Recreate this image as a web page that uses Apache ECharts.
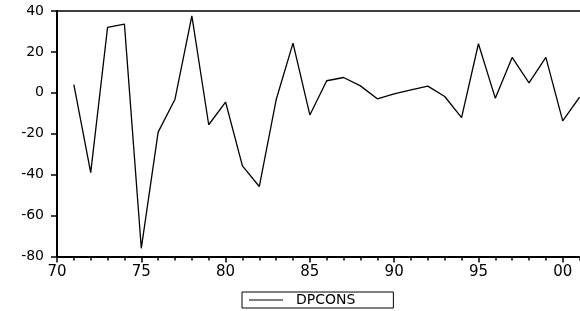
<!DOCTYPE html>
<html>
<head>
<meta charset="utf-8">
<script src="https://cdn.jsdelivr.net/npm/echarts@6/dist/echarts.min.js"></script>
<style>
  html, body { margin: 0; padding: 0; background: #fff; }
  #chart { width: 580px; height: 311px; }
</style>
</head>
<body>
<div id="chart"></div>
<script>
// 年份（两位数，101 即 2001）
var years = [71, 72, 73, 74, 75, 76, 77, 78, 79, 80,
             81, 82, 83, 84, 85, 86, 87, 88, 89, 90,
             91, 92, 93, 94, 95, 96, 97, 98, 99, 100, 101];
// DPCONS 数值
var dpcons = [4, -39, 32, 33.6, -76, -19.2, -3.1, 37.6, -15.6, -4.5,
              -35.7, -45.8, -3.4, 24.3, -10.8, 5.9, 7.5, 3.4, -2.9, -0.5,
              1.5, 3.3, -1.8, -12.1, 24, -2.6, 17.3, 4.9, 17.3, -13.7, -2.1];
var seriesName = 'DPCONS';

var chart = echarts.init(document.getElementById('chart'));

var points = years.map(function(y, i){ return [y, dpcons[i]]; });

chart.setOption({
  animation: false,
  grid: {
    left: 57, top: 11, width: 590, height: 245.5,
    outerBoundsMode: 'none'
  },
  legend: {
    data: [seriesName],
    left: 242, top: 292,
    padding: [1, 38, 1, 7],
    icon: 'rect',
    itemWidth: 34, itemHeight: 1,
    itemStyle: { color: '#000' },
    borderColor: '#000', borderWidth: 1, borderRadius: 0,
    textStyle: { fontFamily: 'DejaVu Sans', fontSize: 14, color: '#000', lineHeight: 13, padding: [0, 0, 0, 8] }
  },
  xAxis: [{
    type: 'value',
    min: 70, max: 105, interval: 5,
    splitLine: { show: true, lineStyle: { opacity: 0 } },
    axisLine: { onZero: false, lineStyle: { color: '#000', width: 2 } },
    axisTick: { show: true, length: 6, lineStyle: { color: '#000', width: 1.5 } },
    minorTick: { show: true, splitNumber: 5, length: 4, lineStyle: { color: '#000', width: 1.5 } },
    axisLabel: {
      margin: 8, fontSize: 15, color: '#000', fontFamily: 'DejaVu Sans',
      formatter: function(v){ var s = String(v % 100); return s.length < 2 ? '0' + s : s; }
    }
  }, {
    // 顶部边框
    type: 'value', position: 'top',
    min: 70, max: 105,
    splitLine: { show: false },
    axisLine: { onZero: false, lineStyle: { color: '#000', width: 1.5 } },
    axisTick: { show: false },
    axisLabel: { show: false }
  }],
  yAxis: {
    type: 'value',
    min: -80, max: 40, interval: 20,
    splitLine: { show: true, lineStyle: { opacity: 0 } },
    axisLine: { show: true, onZero: false, lineStyle: { color: '#000', width: 2 } },
    axisTick: { show: true, length: 6, lineStyle: { color: '#000', width: 1.5 } },
    axisLabel: { margin: 13, fontSize: 14, color: '#000', fontFamily: 'DejaVu Sans' }
  },
  series: [{
    name: seriesName,
    type: 'line',
    symbol: 'none',
    data: points,
    lineStyle: { color: '#000', width: 1.3 },
    itemStyle: { color: '#000' }
  }]
});
</script>
</body>
</html>
